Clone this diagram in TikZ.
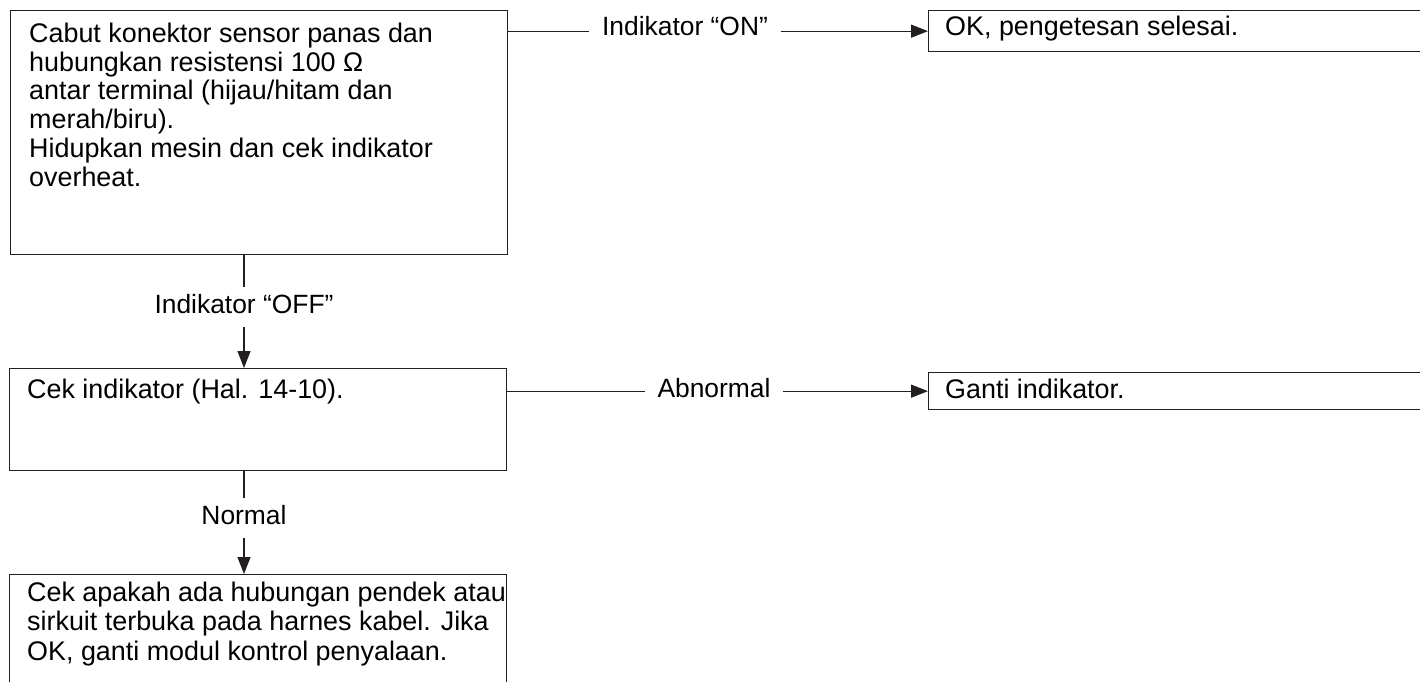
\documentclass[tikz,border=0pt]{standalone}
\usepackage{fontspec}
\setmainfont{Liberation Sans}
\usetikzlibrary{arrows.meta}
\definecolor{ink}{RGB}{35,31,32}
\tikzset{
  box/.style={draw=ink, line width=1.3pt, anchor=north west, inner sep=0pt},
  boxtext/.style={anchor=base west, inner sep=0pt, align=left, font=\fontsize{26.9}{28.7}\selectfont},
  hlabel/.style={anchor=base, inner xsep=12.5pt, inner ysep=2pt, font=\fontsize{26.4}{28.7}\selectfont},
  vlabel/.style={anchor=base, inner xsep=0pt, inner ysep=7pt, text height=19pt, text depth=7pt, font=\fontsize{26.4}{28.7}\selectfont},
  conn/.style={draw=ink, line width=1.3pt},
  flow/.style={conn, -{Triangle[length=17pt,width=13pt]}}
}

\begin{document}
\begin{tikzpicture}[x=1pt,y=-1pt]
        \clip (0,0) rectangle (1420,681);

        % Boxes
        \node[box, minimum width=497pt, minimum height=244pt] (cabut) at (10,10) {};
        \node[box, minimum width=512pt, minimum height=41pt] (ok) at (928,10) {};
        \node[box, minimum width=497pt, minimum height=102pt] (cek) at (9,368) {};
        \node[box, minimum width=512pt, minimum height=37pt] (ganti) at (928,372) {};
        \node[box, minimum width=497pt, minimum height=150pt] (harnes) at (9,574) {};

        % Box texts (multi-line nodes sit on the baseline of their last line)
        \node[boxtext] (t-cabut) at (29,186) {Cabut konektor sensor panas dan\\hubungkan resistensi 100 Ω\\antar terminal (hijau/hitam dan\\merah/biru).\\Hidupkan mesin dan cek indikator\\overheat.};
        \node[boxtext] (t-ok) at (945,35) {OK, pengetesan selesai.};
        \node[boxtext] (t-cek) at (27,398) {Cek indikator (Hal. 14-10).};
        \node[boxtext] (t-ganti) at (945,398) {Ganti indikator.};
        \node[boxtext, font=\fontsize{26.9}{29.5}\selectfont] (t-harnes) at (27,660) {Cek apakah ada hubungan pendek atau\\sirkuit terbuka pada harnes kabel. Jika\\OK, ganti modul kontrol penyalaan.};

        % Labels
        \node[hlabel] (on) at (685,35) {Indikator “ON”};
        \node[hlabel] (abnormal) at (714,397) {Abnormal};
        \node[vlabel] (off) at (244,313) {Indikator “OFF”};
        \node[vlabel] (normal) at (244,524) {Normal};

        % Connectors
        \draw[conn] (cabut.east |- ok.west) -- (ok.west -| on.west);
        \draw[flow] (ok.west -| on.east) -- (ok.west);
        \draw[conn] (cabut.south -| off.north) -- (off.north);
        \draw[flow] (off.south) -- (off.south |- cek.north);
        \draw[conn] (cek.east |- ganti.west) -- (ganti.west -| abnormal.west);
        \draw[flow] (ganti.west -| abnormal.east) -- (ganti.west);
        \draw[conn] (cek.south -| normal.north) -- (normal.north);
        \draw[flow] (normal.south) -- (normal.south |- harnes.north);

    \end{tikzpicture}
\end{document}
